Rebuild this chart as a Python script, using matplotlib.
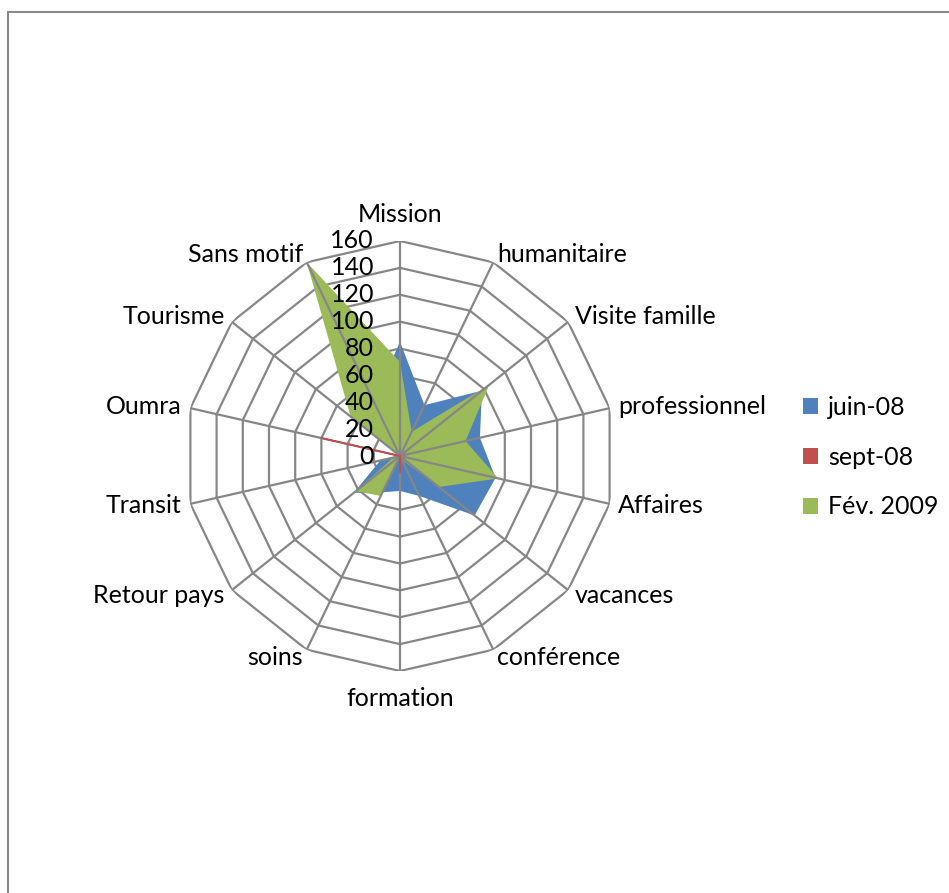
import numpy as np
import matplotlib
matplotlib.use("Agg")
import matplotlib.pyplot as plt
from matplotlib.patches import Patch, Rectangle

plt.rcParams['font.family'] = ['Lato', 'DejaVu Sans']

categories = ["Mission", "humanitaire", "Visite famille", "professionnel", "Affaires",
              "vacances", "conférence", "formation", "soins", "Retour pays",
              "Transit", "Oumra", "Tourisme", "Sans motif"]
juin_08 = [85, 42, 78, 61, 73, 71, 33, 26, 30, 44, 15, 0, 5, 45]
sept_08 = [0, 0, 0, 0, 0, 0, 0, 12, 0, 0, 0, 60, 0, 0]
fev_2009 = [70, 20, 85, 50, 75, 37, 3, 0, 33, 42, 5, 0, 47, 160]
series_names = ["juin-08", "sept-08", "Fév. 2009"]
series_colors = ["#4F81BD", "#C0504D", "#9BBB59"]
ticks = [0, 20, 40, 60, 80, 100, 120, 140, 160]

W, H = 949, 893
fig = plt.figure(figsize=(W / 100, H / 100), dpi=100)
fig.patch.set_facecolor("white")

# outer chart border (only top/left visible)
fig.add_artist(Rectangle((8 / W, -0.1), 1.2, 1 - 12 / H + 0.1, transform=fig.transFigure,
                         fill=False, edgecolor="#888888", linewidth=1.5))

cx, cy, R = 400, 456, 215
ax = fig.add_axes([(cx - R) / W, 1 - (cy + R) / H, 2 * R / W, 2 * R / H], projection="polar")
ax.set_theta_offset(np.pi / 2)
ax.set_theta_direction(-1)
ax.set_ylim(0, 160)
ax.grid(False)
ax.spines["polar"].set_visible(False)
ax.set_xticks([])
ax.set_yticks([])
ax.patch.set_alpha(0)

n = len(categories)
theta = np.arange(n) * 2 * np.pi / n
theta_c = np.append(theta, theta[0])

grid_col = "#868686"
for t in ticks[1:]:
    ax.plot(theta_c, [t] * (n + 1), color=grid_col, lw=1.6, zorder=1)

for vals, col, z in zip([juin_08, sept_08, fev_2009], series_colors, [2, 3, 4]):
    v = np.append(vals, vals[0])
    ax.fill(theta_c, v, color=col, zorder=z, lw=0)

for th in theta:
    ax.plot([th, th], [0, 160], color=grid_col, lw=1.6, zorder=6)

# sept-08 polygon is degenerate: draw its outline above the spokes so it stays visible
v_red = np.append(sept_08, sept_08[0])
ax.plot(theta_c, v_red, color=series_colors[1], lw=1.0, zorder=7)

fs = 18
for th, lab in zip(theta, categories):
    s, c = np.sin(th), np.cos(th)
    if abs(s) < 0.1:
        ha = "center"
        off = (0, 27 if c > 0 else -27)
    else:
        ha = "left" if s > 0 else "right"
        off = (9 * s, 9 * c)
    ax.annotate(lab, xy=(th, 160), xytext=off, textcoords="offset pixels",
                ha=ha, va="center", fontsize=fs, color="black", annotation_clip=False)

for t in ticks:
    ax.annotate(str(t), xy=(0, t), xytext=(-26, 0), textcoords="offset pixels",
                ha="right", va="center", fontsize=fs, color="black", zorder=8,
                annotation_clip=False)

handles = [Patch(facecolor=c, edgecolor="none") for c in series_colors]
fig.legend(handles, series_names, loc="upper left", bbox_to_anchor=(803 / W, 1 - 396 / H),
           frameon=False, fontsize=fs, handlelength=0.6, handleheight=0.6,
           handletextpad=0.4, labelspacing=1.07, borderaxespad=0, borderpad=0)

fig.savefig("out.png", dpi=100, facecolor="white")
